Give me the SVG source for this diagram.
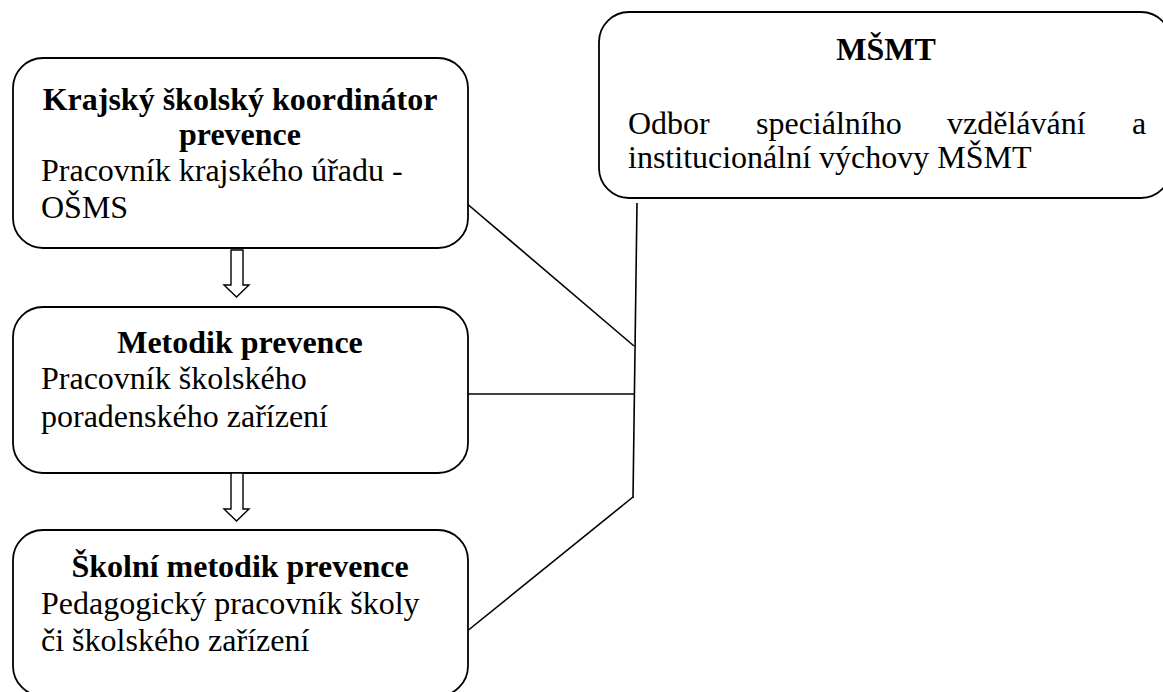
<svg xmlns="http://www.w3.org/2000/svg" width="1163" height="692" viewBox="0 0 1163 692">
<style>
.box{fill:#fff;stroke:#000;stroke-width:1.8}
.arr{fill:#fff;stroke:#000;stroke-width:1.4;stroke-linejoin:miter}
.ln{stroke:#000;stroke-width:1.6;fill:none}
text{font-family:"Liberation Serif","Times New Roman",serif;font-size:32px;fill:#000}
.b{font-weight:bold}
.c{text-anchor:middle}
</style>
<rect width="1163" height="692" fill="#fff"/>
<g id="connectors">
<line class="ln" x1="465" y1="202" x2="634" y2="346"/>
<line class="ln" x1="637" y1="203" x2="633" y2="498"/>
<line class="ln" x1="465" y1="394" x2="634" y2="394"/>
<line class="ln" x1="633" y1="497" x2="466" y2="632"/>
</g>
<g id="krajsky">
<rect class="box" x="13" y="58" width="455" height="190" rx="30" ry="30"/>
<text class="b c" x="240" y="110">Krajský školský koordinátor</text>
<text class="b c" x="240" y="145">prevence</text>
<text x="41" y="181">Pracovník krajského úřadu -</text>
<text x="41" y="218">OŠMS</text>
</g>
<g id="arrow1">
<path class="arr" d="M231,250 L243,250 L243,285 L249,285 L236.5,297 L224,285 L231,285 Z"/>
</g>
<g id="metodik">
<rect class="box" x="13" y="307" width="455" height="166" rx="30" ry="30"/>
<text class="b c" x="240" y="353">Metodik prevence</text>
<text x="41" y="389">Pracovník školského</text>
<text x="41" y="427">poradenského zařízení</text>
</g>
<g id="arrow2">
<path class="arr" d="M231,473 L243,473 L243,509 L249,509 L236.5,521 L224,509 L231,509 Z"/>
</g>
<g id="skolni">
<rect class="box" x="13" y="530" width="455" height="166" rx="30" ry="30"/>
<text class="b c" x="240" y="577">Školní metodik prevence</text>
<text x="41" y="614">Pedagogický pracovník školy</text>
<text x="41" y="651">či školského zařízení</text>
</g>
<g id="msmt">
<rect class="box" x="599" y="12" width="572" height="186" rx="30" ry="30"/>
<text class="b c" x="886" y="60">MŠMT</text>
<text x="628" y="134">Odbor</text>
<text x="756" y="134">speciálního</text>
<text x="947" y="134">vzdělávání</text>
<text x="1132" y="134">a</text>
<text x="628" y="168">institucionální výchovy MŠMT</text>
</g>
</svg>
